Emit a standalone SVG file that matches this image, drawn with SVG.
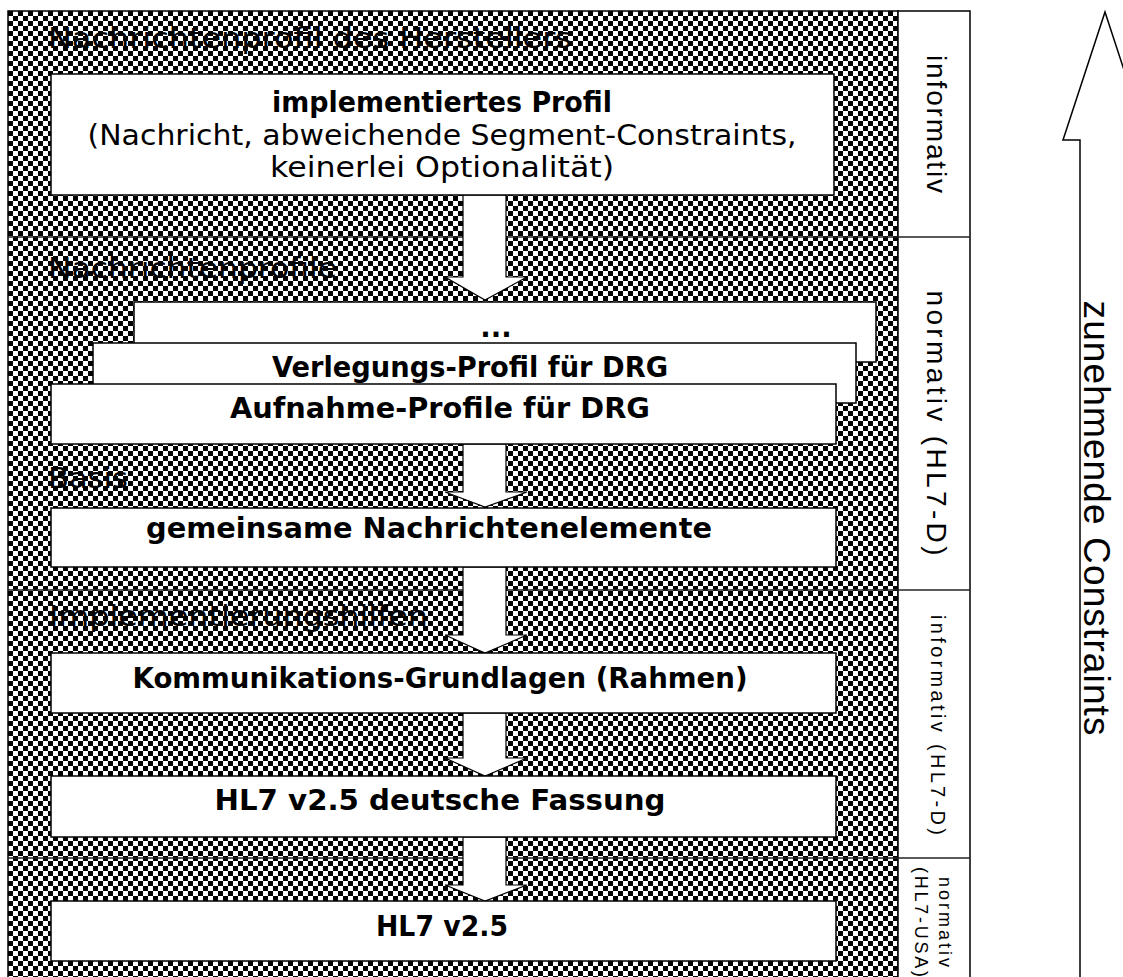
<svg xmlns="http://www.w3.org/2000/svg" width="1123" height="977" viewBox="0 0 1123 977">
<defs>
<pattern id="chk" width="10" height="10" patternUnits="userSpaceOnUse" x="8" y="11">
<rect width="10" height="10" fill="#fff"/>
<rect width="5" height="5" fill="#000"/>
<rect x="5" y="5" width="5" height="5" fill="#000"/>
</pattern>
<style>
.box{fill:#fff;stroke:#000;stroke-width:1.5}
.arr{fill:#fff;stroke:#000;stroke-width:1.2}
.sep{stroke:#222;stroke-width:1.5;fill:none}
.bt{font-family:"DejaVu Sans",Verdana,sans-serif;font-weight:bold;font-size:27.5px;fill:#000;text-anchor:middle}
.rt{font-family:"DejaVu Sans",Verdana,sans-serif;font-size:29px;fill:#000;text-anchor:middle}
.hd{font-family:"DejaVu Sans",Verdana,sans-serif;font-size:29px;fill:#000}
.side{font-family:"Liberation Sans",Arial,sans-serif;fill:#000;text-anchor:middle;dominant-baseline:central}
</style>
</defs>
<rect width="1123" height="977" fill="#fff"/>
<g id="frame">
<rect x="8" y="11" width="890" height="972" fill="url(#chk)" stroke="#000" stroke-width="1.5"/>
<rect x="898" y="11" width="72" height="972" fill="#fff" stroke="#000" stroke-width="1.5"/>
<line class="sep" x1="8" y1="237" x2="970" y2="237"/>
<line class="sep" x1="8" y1="590" x2="970" y2="590"/>
<line class="sep" x1="8" y1="858" x2="970" y2="858"/>
</g>
<g id="headers">
<text class="hd" x="48" y="48" textLength="524" lengthAdjust="spacingAndGlyphs">Nachrichtenprofil des Herstellers</text>
<text class="hd" x="48" y="278" textLength="289" lengthAdjust="spacingAndGlyphs">Nachrichtenprofile</text>
<text class="hd" x="48" y="488" textLength="80" lengthAdjust="spacingAndGlyphs">Basis</text>
<text class="hd" x="49" y="626" textLength="379" lengthAdjust="spacingAndGlyphs">Implementierungshilfen</text>
</g>
<g id="connectors">
<polygon class="arr" points="463,195 506,195 506,277 527,277 485,300 445,277 463,277"/>
<polygon class="arr" points="463,444 506,444 506,492 527,492 485,507 445,492 463,492"/>
<polygon class="arr" points="463,567 506,567 506,635 527,635 485,653 445,635 463,635"/>
<polygon class="arr" points="463,713 506,713 506,758 527,758 485,776 445,758 463,758"/>
<polygon class="arr" points="463,837 506,837 506,885 527,885 485,901 445,885 463,885"/>
</g>
<g id="node-implementiert">
<rect class="box" x="51" y="74" width="783" height="121"/>
<text class="bt" x="442" y="112" textLength="340" lengthAdjust="spacingAndGlyphs">implementiertes Profil</text>
<text class="rt" x="442" y="145" textLength="709" lengthAdjust="spacingAndGlyphs">(Nachricht, abweichende Segment-Constraints,</text>
<text class="rt" x="442" y="177" textLength="344" lengthAdjust="spacingAndGlyphs">keinerlei Optionalität)</text>
</g>
<g id="node-dots">
<rect class="box" x="134" y="302" width="742" height="60"/>
<text class="bt" x="496" y="337">...</text>
</g>
<g id="node-verlegung">
<rect class="box" x="93" y="343" width="763" height="60"/>
<text class="bt" x="470" y="377" textLength="396" lengthAdjust="spacingAndGlyphs">Verlegungs-Profil für DRG</text>
</g>
<g id="node-aufnahme">
<rect class="box" x="51" y="384" width="785" height="60"/>
<text class="bt" x="440" y="418" textLength="420" lengthAdjust="spacingAndGlyphs">Aufnahme-Profile für DRG</text>
</g>
<g id="node-gemeinsam">
<rect class="box" x="51" y="508" width="785" height="59"/>
<text class="bt" x="429" y="538" textLength="566" lengthAdjust="spacingAndGlyphs">gemeinsame Nachrichtenelemente</text>
</g>
<g id="node-kommunikation">
<rect class="box" x="51" y="653" width="785" height="60"/>
<text class="bt" x="440" y="688" textLength="615" lengthAdjust="spacingAndGlyphs">Kommunikations-Grundlagen (Rahmen)</text>
</g>
<g id="node-deutsch">
<rect class="box" x="51" y="776" width="785" height="61"/>
<text class="bt" x="440" y="810" textLength="451" lengthAdjust="spacingAndGlyphs">HL7 v2.5 deutsche Fassung</text>
</g>
<g id="node-hl7">
<rect class="box" x="51" y="901" width="785" height="60"/>
<text class="bt" x="442" y="936" textLength="132" lengthAdjust="spacingAndGlyphs">HL7 v2.5</text>
</g>
<g id="labels">
<text class="side" font-size="28" transform="translate(936,124) rotate(90)" textLength="138" lengthAdjust="spacing">informativ</text>
<text class="side" font-size="28" transform="translate(936,423) rotate(90)" textLength="265" lengthAdjust="spacing">normativ (HL7-D)</text>
<text class="side" font-size="20" transform="translate(938,725) rotate(90)" textLength="220" lengthAdjust="spacing">informativ  (HL7-D)</text>
<text class="side" font-size="18" transform="translate(945,922) rotate(90)" textLength="90" lengthAdjust="spacing">normativ</text>
<text class="side" font-size="18" transform="translate(921,922) rotate(90)" textLength="110" lengthAdjust="spacing">(HL7-USA)</text>
</g>
<g id="trend">
<polygon points="1105,12 1147,140 1130,140 1130,990 1080,990 1080,140 1063,140" fill="#fff" stroke="#000" stroke-width="1.5"/>
<text class="side" font-size="37" transform="translate(1096,518) rotate(90)" textLength="435" lengthAdjust="spacing">zunehmende Constraints</text>
</g>
</svg>
